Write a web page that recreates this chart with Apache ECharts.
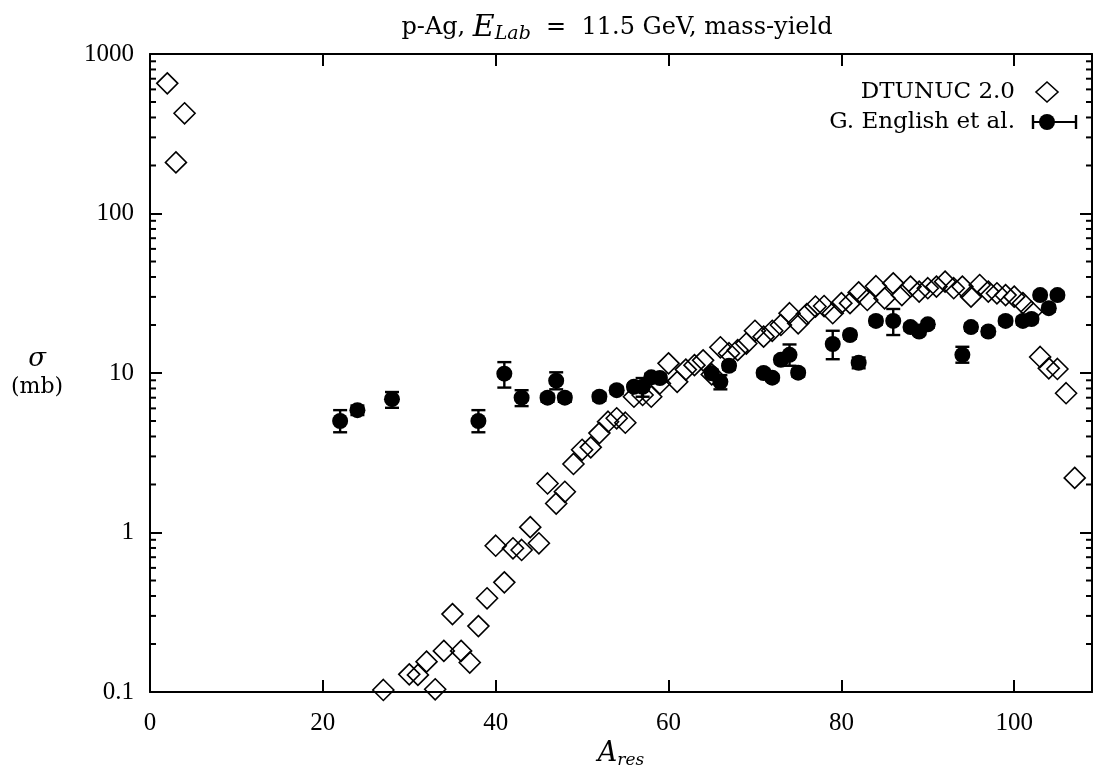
<!DOCTYPE html>
<html>
<head>
<meta charset="utf-8">
<script src="https://cdn.jsdelivr.net/npm/echarts@6/dist/echarts.min.js"></script>
<style>
html,body{margin:0;padding:0;background:#fff;}
#c{width:1096px;height:770px;}
</style>
</head>
<body>
<div id="c"></div>
<script>
// ---- DTUNUC 2.0 (open diamonds) ----
const dtA = [2,3,4,27,30,31,32,33,34,35,36,37,38,39,40,41,42,43,44,45,46,47,48,49,50,51,52,53,54,55,56,57,58,59,60,61,62,63,64,65,66,67,68,69,70,71,72,73,74,75,76,77,78,79,80,81,82,83,84,85,86,87,88,89,90,91,92,93,94,95,96,97,98,99,100,101,102,103,104,105,106,107];
const dtSigma = [655,209,425,0.103,0.129,0.128,0.155,0.104,0.181,0.308,0.181,0.153,0.259,0.387,0.826,0.487,0.796,0.777,1.08,0.856,2.03,1.52,1.80,2.69,3.3,3.42,4.2,4.95,5.2,4.88,7.1,7.28,7.1,8.6,11.5,8.8,10.5,11.2,12.0,9.8,14.5,13.3,13.9,15.3,18.4,16.9,18.4,20.0,23.7,20.5,23.4,26.1,26.3,23.7,27.4,27.4,32.0,28.7,35.0,29.4,36.5,30.8,34.8,32.4,34.0,34.8,37.4,34.0,34.8,30.1,35.6,32.4,31.6,30.8,30.1,27.4,24.2,12.6,10.7,10.6,7.47,2.2];

// ---- G. English et al. (filled circles with error bars) ----
const enA     = [22,24,28,38,41,43,46,47,48,52,54,56,57,58,59,65,66,67,71,72,73,74,75,79,81,82,84,86,88,89,90,94,95,97,99,101,102,103,104,105];
const enSigma = [5.0,5.85,6.85,5.0,9.9,7.0,7.0,8.95,7.0,7.1,7.8,8.2,8.2,9.4,9.3,9.95,8.8,11.1,10.0,9.35,12.1,13.0,10.05,15.2,17.3,11.6,21.2,21.2,19.4,18.2,20.2,13.0,19.4,18.2,21.2,21.2,21.8,30.8,25.5,30.8];
const enLow   = [4.25,5.45,6.05,4.25,8.1,6.2,6.6,7.9,6.6,6.7,7.4,7.8,7.1,8.9,8.8,9.4,7.9,10.5,9.5,8.9,11.5,11.1,9.5,12.2,16.4,10.7,20.1,17.3,18.4,17.3,19.2,11.6,18.4,17.3,20.1,20.1,20.7,29.3,24.2,29.3];
const enHigh  = [5.85,6.25,7.6,5.85,11.7,7.8,7.4,10.1,7.4,7.5,8.2,8.6,9.3,9.9,9.8,10.5,9.7,11.7,10.5,9.8,12.7,15.1,10.6,18.4,18.2,12.5,22.3,25.2,20.4,19.1,21.2,14.6,20.4,19.1,22.3,22.3,22.9,32.3,26.8,32.3];

// ---- axis ticks ----
const xTickLabels = [0,20,40,60,80,100];
const yTickLabels = [0.1,1,10,100,1000];
const yMinorTicks = [0.2,0.3,0.4,0.5,0.6,0.7,0.8,0.9,2,3,4,5,6,7,8,9,20,30,40,50,60,70,80,90,200,300,400,500,600,700,800,900];

const X_MIN = 0, X_MAX = 109;
const NUMFONT = 'Liberation Serif';
const TXTFONT = 'DejaVu Serif';

const chart = echarts.init(document.getElementById('c'), null, {renderer:'canvas'});

const axisLineStyle = {color:'#000', width:2};
const majorTick = {show:true, inside:true, length:12, lineStyle:{color:'#000', width:2}};

const option = {
  backgroundColor:'#fff',
  animation:false,
  title:{
    left:612, top:5, textAlign:'center',
    text:'{a|p-Ag, }{i|E}{s|Lab}{a|  =  11.5 GeV, mass-yield}',
    textStyle:{
      fontWeight:'normal',
      rich:{
        a:{fontFamily:TXTFONT, fontSize:24, fontWeight:'normal', color:'#000', lineHeight:36},
        i:{fontFamily:TXTFONT, fontSize:30, fontStyle:'italic', fontWeight:'normal', color:'#000', lineHeight:36},
        s:{fontFamily:TXTFONT, fontSize:19, fontStyle:'italic', fontWeight:'normal', color:'#000', padding:[13,0,0,0]}
      }
    }
  },
  grid:{left:150, right:4, top:54, bottom:78, containLabel:false, outerBoundsMode:'none'},
  xAxis:[{
    type:'value', position:'bottom', min:X_MIN, max:X_MAX, interval:20,
    axisLine:{show:true, onZero:false, lineStyle:axisLineStyle},
    axisTick:majorTick,
    splitLine:{show:false},
    axisLabel:{
      margin:19, color:'#000', fontFamily:NUMFONT, fontSize:25,
      formatter:function(v){ return xTickLabels.indexOf(v) >= 0 ? String(v) : ''; }
    },
    name:'{i|A}{s|res}', nameLocation:'middle', nameGap:33,
    nameTextStyle:{
      rich:{
        i:{fontFamily:TXTFONT, fontSize:27, fontStyle:'italic', color:'#000', lineHeight:30},
        s:{fontFamily:TXTFONT, fontSize:17, fontStyle:'italic', color:'#000', padding:[12,0,0,0]}
      }
    }
  },{
    type:'value', position:'top', min:X_MIN, max:X_MAX, interval:20,
    axisLine:{show:true, onZero:false, lineStyle:axisLineStyle},
    axisTick:majorTick, axisLabel:{show:false}, splitLine:{show:false}
  }],
  yAxis:[{
    type:'log', logBase:10, position:'left', min:0.1, max:1000,
    axisLine:{show:true, onZero:false, lineStyle:axisLineStyle},
    axisTick:majorTick,
    splitLine:{show:false},
    axisLabel:{
      margin:16, color:'#000', fontFamily:NUMFONT, fontSize:25,
      formatter:function(v){
        for (const t of yTickLabels) { if (Math.abs(v - t) / t < 1e-6) return String(t); }
        return '';
      }
    },
    name:'{i|σ}\n{m|(mb)}', nameLocation:'middle', nameRotate:0, nameGap:113,
    nameTextStyle:{
      align:'center',
      rich:{
        i:{fontFamily:TXTFONT, fontSize:26, fontStyle:'italic', color:'#000', lineHeight:28, align:'center'},
        m:{fontFamily:TXTFONT, fontSize:22, color:'#000', lineHeight:28, align:'center'}
      }
    }
  },{
    type:'log', logBase:10, position:'right', min:0.1, max:1000,
    axisLine:{show:true, onZero:false, lineStyle:axisLineStyle},
    axisTick:majorTick, axisLabel:{show:false}, splitLine:{show:false}
  }],
  series:[
    {
      name:'minor ticks', type:'custom', xAxisIndex:0, yAxisIndex:0, silent:true, clip:false, z:1,
      data: yMinorTicks.map(v => [X_MIN, v]),
      renderItem:function(params, api){
        const v = api.value(1);
        const p = api.coord([X_MIN, v]);
        const q = api.coord([X_MAX, v]);
        const st = {stroke:'#000', lineWidth:2};
        return {type:'group', children:[
          {type:'line', shape:{x1:p[0], y1:p[1], x2:p[0]+6, y2:p[1]}, style:st},
          {type:'line', shape:{x1:q[0]-6, y1:q[1], x2:q[0], y2:q[1]}, style:st}
        ]};
      }
    },
    {
      name:'DTUNUC 2.0', type:'scatter', xAxisIndex:0, yAxisIndex:0, z:2,
      symbol:'diamond', symbolSize:[21,21],
      itemStyle:{color:'rgba(0,0,0,0)', borderColor:'#000', borderWidth:1.6, opacity:1},
      data: dtA.map((a,i) => [a, dtSigma[i]])
    },
    {
      name:'G. English et al. (errors)', type:'custom', xAxisIndex:0, yAxisIndex:0, z:3, silent:true,
      data: enA.map((a,i) => [a, enLow[i], enHigh[i]]),
      renderItem:function(params, api){
        const a = api.value(0);
        const p1 = api.coord([a, api.value(1)]);
        const p2 = api.coord([a, api.value(2)]);
        const w = 7;
        const st = {stroke:'#000', lineWidth:2.4};
        return {type:'group', children:[
          {type:'line', shape:{x1:p1[0], y1:p1[1], x2:p2[0], y2:p2[1]}, style:st},
          {type:'line', shape:{x1:p1[0]-w, y1:p1[1], x2:p1[0]+w, y2:p1[1]}, style:st},
          {type:'line', shape:{x1:p2[0]-w, y1:p2[1], x2:p2[0]+w, y2:p2[1]}, style:st}
        ]};
      }
    },
    {
      name:'G. English et al.', type:'scatter', xAxisIndex:0, yAxisIndex:0, z:4,
      symbol:'circle', symbolSize:16,
      itemStyle:{color:'#000', opacity:1},
      data: enA.map((a,i) => [a, enSigma[i]])
    }
  ],
  graphic:[
    {type:'text', x:1015, y:92, style:{text:'DTUNUC 2.0', fontFamily:TXTFONT, fontSize:23, fill:'#000', align:'right', verticalAlign:'middle'}},
    {type:'polygon', shape:{points:[[1047,82],[1058,92],[1047,102],[1036,92]]}, style:{fill:'none', stroke:'#000', lineWidth:1.6}},
    {type:'text', x:1015, y:122, style:{text:'G. English et al.', fontFamily:TXTFONT, fontSize:23, fill:'#000', align:'right', verticalAlign:'middle'}},
    {type:'line', shape:{x1:1033, y1:122, x2:1076, y2:122}, style:{stroke:'#000', lineWidth:2}},
    {type:'line', shape:{x1:1033, y1:115, x2:1033, y2:129}, style:{stroke:'#000', lineWidth:2.4}},
    {type:'line', shape:{x1:1076, y1:115, x2:1076, y2:129}, style:{stroke:'#000', lineWidth:2.4}},
    {type:'circle', shape:{cx:1047, cy:122, r:8}, style:{fill:'#000'}}
  ]
};
chart.setOption(option);
</script>
</body>
</html>
